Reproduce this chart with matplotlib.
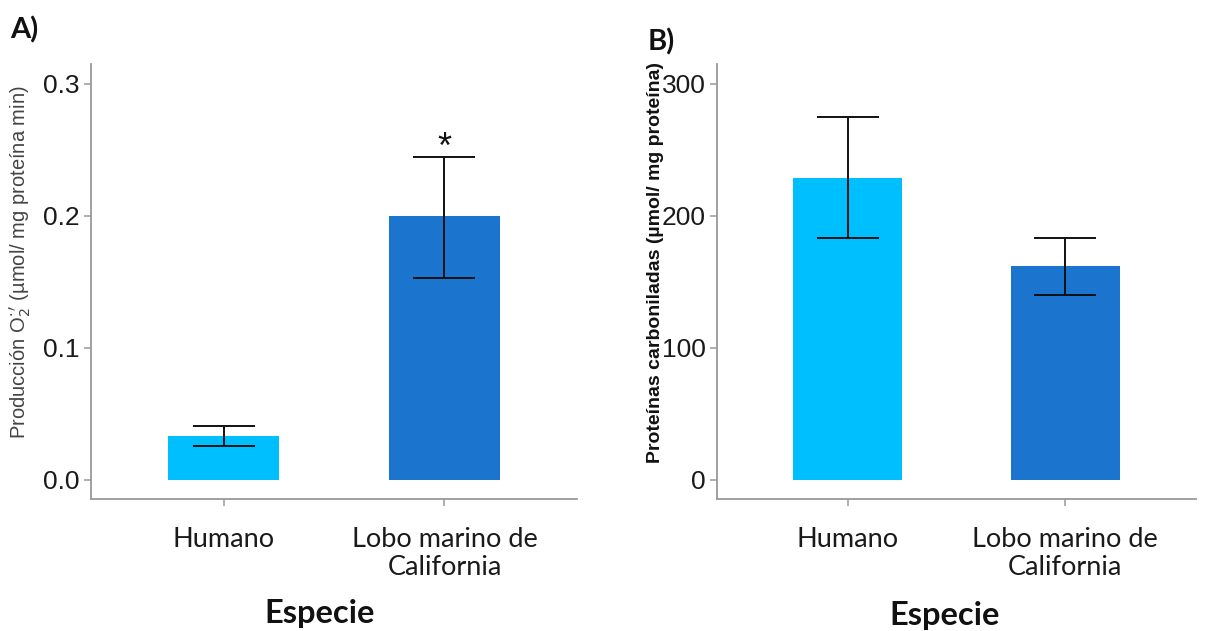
import matplotlib
matplotlib.use("Agg")
import matplotlib.pyplot as plt

# ---- data ----
species = ["Humano", "Lobo marino de\nCalifornia"]
o2_mean = [0.0335, 0.200]
o2_low = [0.0258, 0.153]
o2_high = [0.0410, 0.2445]
carb_mean = [229.0, 162.0]
carb_low = [183.0, 140.0]
carb_high = [274.5, 183.0]
colors = ["#00BFFF", "#1B74CD"]
yticks_a = [0.0, 0.1, 0.2, 0.3]
yticks_b = [0, 100, 200, 300]

W, H = 1212, 631
fig = plt.figure(figsize=(W / 100, H / 100), dpi=100)

def rect(l, r, t, b):
    return [l / W, 1 - b / H, (r - l) / W, (b - t) / H]

axA = fig.add_axes(rect(91, 577, 64, 499))
axB = fig.add_axes(rect(717, 1196, 64, 499))

cat_font = ["Lato", "DejaVu Sans"]

def style(ax, yticks, fmt):
    for s in ["top", "right"]:
        ax.spines[s].set_visible(False)
    for s in ["left", "bottom"]:
        ax.spines[s].set_color("#999999")
        ax.spines[s].set_linewidth(1.3)
    ax.tick_params(axis="both", color="#999999", length=5, width=1.1)
    ax.tick_params(axis="y", pad=3)
    ax.tick_params(axis="x", pad=15)
    ax.set_yticks(yticks)
    ax.set_yticklabels([fmt(v) for v in yticks], fontfamily="Liberation Sans",
                       fontsize=19, color="#1a1a1a")
    ax.set_xticks(range(len(species)))
    ax.set_xticklabels(species, fontfamily=cat_font, fontsize=19.5,
                       color="#1a1a1a", linespacing=1.15, va="top")
    ax.set_xlim(-0.6, 1.6)

def draw(ax, mean, low, high):
    x = list(range(len(species)))
    ax.bar(x, mean, width=0.5, color=colors, zorder=1)
    yerr = [[m - l for m, l in zip(mean, low)], [h - m for m, h in zip(mean, high)]]
    ax.errorbar(x, mean, yerr=yerr, fmt="none", ecolor="#111111",
                elinewidth=1.4, capsize=22, capthick=1.4, zorder=2)

draw(axA, o2_mean, o2_low, o2_high)
style(axA, yticks_a, lambda v: f"{v:.1f}")
axA.set_ylim(-0.0145, 0.315)
axA.text(1, 0.251, "*", ha="center", va="center", fontsize=26,
         fontfamily="Liberation Sans", color="#111111")

draw(axB, carb_mean, carb_low, carb_high)
style(axB, yticks_b, lambda v: f"{v:d}")
axB.set_ylim(-14.5, 315)

# y labels
fig.text(20 / W, 1 - 262 / H,
         r"Producción O$_2^{\cdot\,\prime}$ (µmol/ mg proteína min)",
         rotation=90, ha="center", va="center", fontsize=14.5,
         fontfamily="Liberation Sans", color="#444444")
fig.text(655 / W, 1 - 263 / H,
         "Proteínas carboniladas (µmol/ mg proteína)",
         rotation=90, ha="center", va="center", fontsize=14.0,
         fontweight="bold", fontfamily="Liberation Sans", color="#111111")

# x labels
fig.text(320 / W, 1 - 613 / H, "Especie", ha="center", va="center",
         fontsize=23.5, fontweight="bold", fontfamily=cat_font, color="#111111")
fig.text(945 / W, 1 - 616 / H, "Especie", ha="center", va="center",
         fontsize=23.5, fontweight="bold", fontfamily=cat_font, color="#111111")

# panel labels
fig.text(10 / W, 1 - 30 / H, "A)", ha="left", va="center", fontsize=21,
         fontweight="bold", fontfamily=cat_font, color="#111111")
fig.text(648 / W, 1 - 42 / H, "B)", ha="left", va="center", fontsize=21,
         fontweight="bold", fontfamily=cat_font, color="#111111")

fig.savefig("out.png", dpi=100)
